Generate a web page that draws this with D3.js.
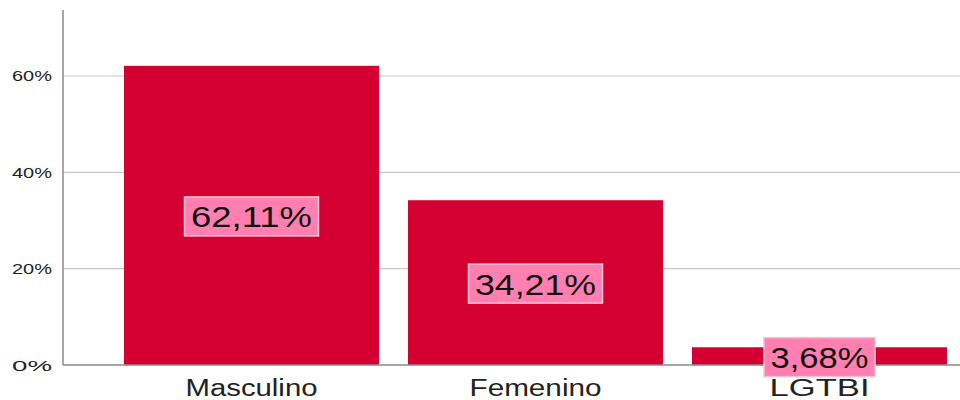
<!DOCTYPE html>
<html><head><meta charset="utf-8">
<script src="https://cdn.jsdelivr.net/npm/d3@7"></script>
<style>body{margin:0;background:#fff}svg{display:block}</style>
</head><body>
<script>
const categories = ["Masculino", "Femenino", "LGTBI"];
const values = [62.11, 34.21, 3.68];
const valueLabels = ["62,11%", "34,21%", "3,68%"];
const yTicks = [0, 20, 40, 60];
const yTickLabels = ["0%", "20%", "40%", "60%"];

const W = 960, H = 400;
const svg = d3.select("body").append("svg").attr("width", W).attr("height", H);
const x0 = 63, yBase = 365, yTop = 10;
const y = d3.scaleLinear().domain([0, 73.7]).range([yBase, yTop]);
const pi = 29 / 284;
const x = d3.scaleBand().domain(categories).range([109.5, 961.5]).paddingInner(pi).paddingOuter(pi / 2);

// gridlines
svg.append("g").selectAll("line").data(yTicks.slice(1)).join("line")
  .attr("x1", x0).attr("x2", W).attr("y1", d => y(d)).attr("y2", d => y(d))
  .attr("stroke", "#c8c8c8").attr("stroke-width", 1.2);

// y tick labels
const fontFam = "'Liberation Sans', Arial, sans-serif";
svg.append("g").selectAll("text").data(yTicks).join("text")
  .attr("x", 52).attr("y", d => y(d) + 5.5).attr("text-anchor", "end")
  .attr("font-family", fontFam).attr("font-size", 15).attr("fill", "#222")
  .attr("textLength", 40).attr("lengthAdjust", "spacingAndGlyphs")
  .text((d, i) => yTickLabels[i]);

// bars
svg.append("g").selectAll("rect").data(values).join("rect")
  .attr("x", (d, i) => x(categories[i])).attr("width", x.bandwidth())
  .attr("y", d => y(d)).attr("height", d => yBase - y(d))
  .attr("fill", "#d50032");

// axes lines
svg.append("line").attr("x1", x0).attr("x2", x0).attr("y1", yTop).attr("y2", yBase)
  .attr("stroke", "#8a8a8a").attr("stroke-width", 1.5);
svg.append("line").attr("x1", x0).attr("x2", W).attr("y1", yBase).attr("y2", yBase)
  .attr("stroke", "#8a8a8a").attr("stroke-width", 1.5);

// value labels
const lblW = [121, 121, 98];
const lg = svg.append("g").selectAll("g").data(values).join("g")
  .attr("transform", (d, i) => `translate(${x(categories[i]) + x.bandwidth() / 2},${(y(d) + yBase) / 2 + 1.5})`);
lg.append("rect")
  .attr("x", (d, i) => -(lblW[i] + 13) / 2).attr("y", -20)
  .attr("width", (d, i) => lblW[i] + 13).attr("height", 39)
  .attr("fill", "#ff80b0").attr("stroke", "#f7bfd6").attr("stroke-width", 1.5);
lg.append("text")
  .attr("text-anchor", "middle").attr("y", 10.5)
  .attr("font-family", fontFam).attr("font-size", 29).attr("fill", "#111")
  .attr("textLength", (d, i) => lblW[i]).attr("lengthAdjust", "spacingAndGlyphs")
  .text((d, i) => valueLabels[i]);

// category labels
const catWidths = [132, 132, 100];
svg.append("g").selectAll("text").data(categories).join("text")
  .attr("x", d => x(d) + x.bandwidth() / 2).attr("y", 396)
  .attr("text-anchor", "middle").attr("font-family", fontFam).attr("font-size", 23)
  .attr("fill", "#222")
  .attr("textLength", (d, i) => catWidths[i]).attr("lengthAdjust", "spacingAndGlyphs")
  .text(d => d);
</script>
</body></html>
